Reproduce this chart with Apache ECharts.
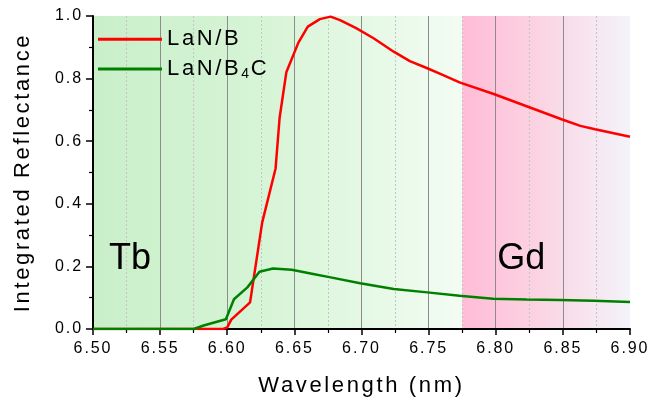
<!DOCTYPE html>
<html>
<head>
<meta charset="utf-8">
<script src="https://cdn.jsdelivr.net/npm/echarts@6/dist/echarts.min.js"></script>
<style>
  html, body { margin: 0; padding: 0; background: #fff; }
  #chart { width: 648px; height: 399px; }
</style>
</head>
<body>
<div id="chart"></div>
<script>
// Integrated reflectance vs wavelength for two multilayer designs
const seriesNames = ['LaN/B', 'LaN/B4C'];

const lanB = [
  [6.500, 0], [6.550, 0], [6.597, 0], [6.600, 0.005], [6.603, 0.030],
  [6.617, 0.085], [6.626, 0.340], [6.636, 0.513], [6.639, 0.675],
  [6.644, 0.820], [6.653, 0.915], [6.660, 0.966], [6.669, 0.990],
  [6.677, 0.998], [6.684, 0.987], [6.696, 0.961], [6.709, 0.929],
  [6.724, 0.886], [6.736, 0.856], [6.749, 0.833], [6.760, 0.813],
  [6.773, 0.788], [6.799, 0.750], [6.824, 0.710], [6.849, 0.670],
  [6.863, 0.649], [6.874, 0.638], [6.900, 0.614]
];

const lanB4C = [
  [6.500, 0], [6.575, 0], [6.583, 0.012], [6.599, 0.031], [6.605, 0.095],
  [6.615, 0.133], [6.624, 0.183], [6.634, 0.193], [6.648, 0.189],
  [6.664, 0.176], [6.677, 0.165], [6.699, 0.146], [6.724, 0.128],
  [6.749, 0.117], [6.773, 0.106], [6.798, 0.097], [6.823, 0.094],
  [6.848, 0.093], [6.873, 0.090], [6.900, 0.086]
];

// Absorption-edge regions shaded behind the curves
const tbRange = [6.50, 6.775];
const gdRange = [6.775, 6.90];
const regionLabels = [
  { name: 'Tb', coord: [6.5276, 0.224] },
  { name: 'Gd', coord: [6.819, 0.224] }
];

const FONT = 'Liberation Sans';
const TRACKING = 0.12; // extra letter spacing for body text, in em

// Slightly tracked-out lettering for text up to 24px: applied when measured and drawn
(function () {
  const proto = CanvasRenderingContext2D.prototype;
  if (!('letterSpacing' in proto)) return;
  const track = (ctx) => {
    const m = /(\d+(?:\.\d+)?)px/.exec(ctx.font);
    const size = m ? parseFloat(m[1]) : 12;
    ctx.letterSpacing = size <= 24 ? (TRACKING * size).toFixed(2) + 'px' : '0px';
  };
  const fill = proto.fillText, stroke = proto.strokeText, measure = proto.measureText;
  proto.fillText = function () { track(this); const r = fill.apply(this, arguments); this.letterSpacing = '0px'; return r; };
  proto.strokeText = function () { track(this); const r = stroke.apply(this, arguments); this.letterSpacing = '0px'; return r; };
  proto.measureText = function () { track(this); const r = measure.apply(this, arguments); this.letterSpacing = '0px'; return r; };
})();

const chart = echarts.init(document.getElementById('chart'), null, { renderer: 'canvas' });

const hGrad = (stops) => new echarts.graphic.LinearGradient(0, 0, 1, 0,
  stops.map(([o, c]) => ({ offset: o, color: c })));

// Vertical major grid lines; the one on the right plot edge is left out
const majorColors = [];
for (let i = 0; i < 8; i++) majorColors.push('#8c8c8c');
majorColors.push('rgba(0,0,0,0)');

chart.setOption({
  animation: false,
  grid: { left: 93, right: 18, top: 16, bottom: 70, containLabel: false, outerBoundsMode: 'none' },
  legend: {
    orient: 'vertical',
    left: 93,
    top: 22,
    icon: 'rect',
    itemWidth: 64,
    itemHeight: 3,
    itemGap: 5,
    data: seriesNames,
    textStyle: {
      fontFamily: FONT, fontSize: 22, color: '#000',
      rich: {
        a: { fontFamily: FONT, fontSize: 22, color: '#000' },
        s: { fontFamily: FONT, fontSize: 14, color: '#000', verticalAlign: 'bottom', padding: [10, 0, 0, 0] }
      }
    },
    formatter: (name) => name === 'LaN/B4C' ? '{a|LaN/B}{s|4}{a|C}' : '{a|' + name + '}'
  },
  xAxis: {
    type: 'value',
    min: 6.5, max: 6.9, interval: 0.05,
    z: 2,
    name: 'Wavelength (nm)',
    nameLocation: 'middle',
    nameGap: 45,
    nameTextStyle: { fontFamily: FONT, fontSize: 22, color: '#000' },
    axisLine: { show: true, onZero: false, lineStyle: { color: '#000', width: 2 } },
    axisTick: { show: true, length: 6, lineStyle: { color: '#000', width: 1.5 } },
    minorTick: { show: true, splitNumber: 2, length: 4, lineStyle: { color: '#000', width: 1.2 } },
    axisLabel: { fontFamily: FONT, fontSize: 16, color: '#000', margin: 11,
      formatter: (v) => v.toFixed(2) },
    splitLine: { show: true, lineStyle: { color: majorColors, width: 1 } },
    minorSplitLine: { show: true, lineStyle: { color: '#c4c4c4', width: 1, type: [2, 2] } }
  },
  yAxis: {
    type: 'value',
    min: 0, max: 1, interval: 0.2,
    z: 2,
    name: 'Integrated Reflectance',
    nameLocation: 'middle',
    nameGap: 58,
    nameTextStyle: { fontFamily: FONT, fontSize: 22, color: '#000' },
    axisLine: { show: true, onZero: false, lineStyle: { color: '#000', width: 2 } },
    axisTick: { show: true, length: 7, lineStyle: { color: '#000', width: 1.5 } },
    minorTick: { show: true, splitNumber: 2, length: 4, lineStyle: { color: '#000', width: 1.2 } },
    axisLabel: { fontFamily: FONT, fontSize: 16, color: '#000', margin: 10,
      formatter: (v) => v.toFixed(1) },
    splitLine: { show: false }
  },
  series: [
    {
      // background shading + region labels
      type: 'line',
      name: 'regions',
      z: 0,
      data: [],
      silent: true,
      markArea: {
        silent: true,
        z: 0,
        data: [
          [{ xAxis: tbRange[0], itemStyle: { color: hGrad([[0, '#c9efc9'], [0.45, '#d6f4d6'], [1, '#f3fcf3']]) } },
           { xAxis: tbRange[1] }],
          [{ xAxis: gdRange[0], itemStyle: { color: hGrad([[0, '#ffbcd7'], [0.45, '#fbd3e2'], [1, '#f3f3fa']]) } },
           { xAxis: gdRange[1] }]
        ]
      },
      markPoint: {
        silent: true,
        z: 4,
        symbol: 'circle',
        symbolSize: 0,
        label: {
          show: true, position: 'inside',
          fontFamily: FONT, fontSize: 36, color: '#000',
          formatter: (p) => p.name
        },
        data: regionLabels
      }
    },
    {
      type: 'line',
      name: seriesNames[0],
      z: 3,
      data: lanB,
      symbol: 'none',
      lineStyle: { color: '#ff0000', width: 2.5 },
      itemStyle: { color: '#ff0000' }
    },
    {
      type: 'line',
      name: seriesNames[1],
      z: 3,
      data: lanB4C,
      symbol: 'none',
      lineStyle: { color: '#008000', width: 2.5 },
      itemStyle: { color: '#008000' }
    }
  ]
});
</script>
</body>
</html>
